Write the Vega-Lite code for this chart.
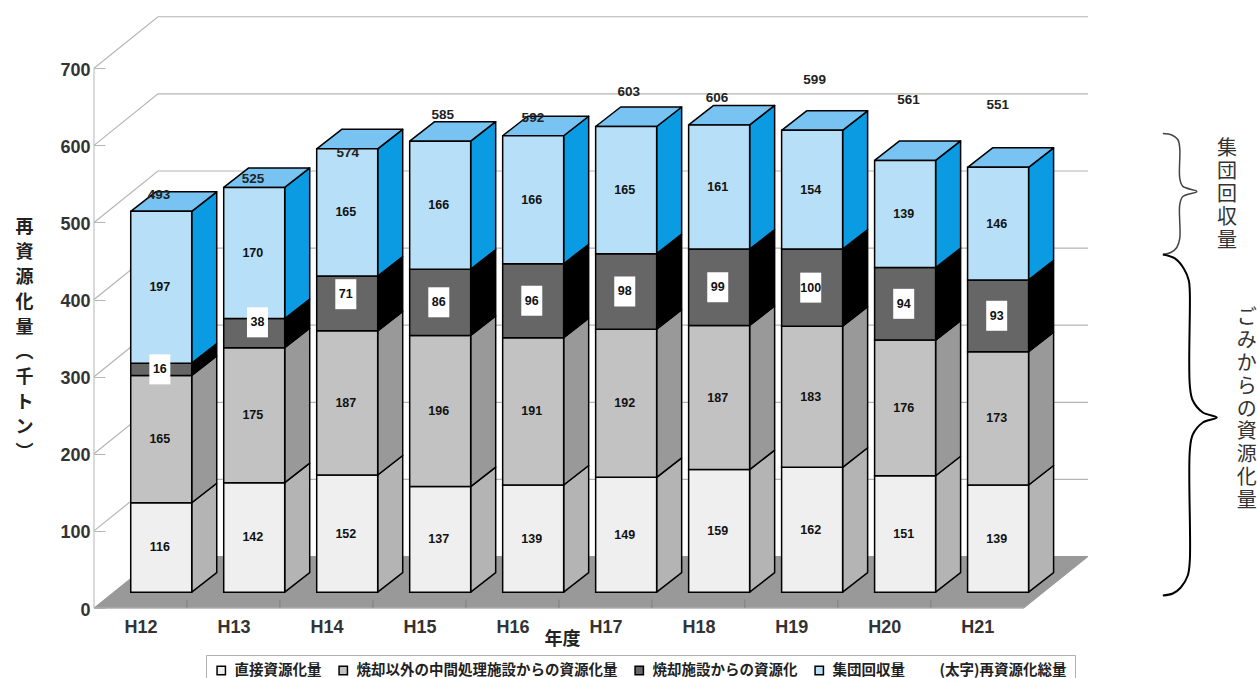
{
  "$schema": "https://vega.github.io/schema/vega-lite/v6.json",
  "width": 994,
  "height": 592,
  "autosize": "none",
  "padding": {"left": 94, "top": 16, "right": 169, "bottom": 70},
  "background": "white",
  "datasets": {
    "levels": [{"level":100},{"level":200},{"level":300},{"level":400},{"level":500},{"level":600},{"level":700}],
    "floor": [
      {"seq":0,"px":0,"py":0},{"seq":1,"px":0.688,"py":66.8},{"seq":2,"px":10.69,"py":66.8},{"seq":3,"px":10,"py":0},{"seq":4,"px":0,"py":0}
    ],
    "totals": [
      {"year":"H12","total":493,"px":0.70,"py":535},
      {"year":"H13","total":525,"px":1.71,"py":557},
      {"year":"H14","total":574,"px":2.73,"py":590},
      {"year":"H15","total":585,"px":3.75,"py":640},
      {"year":"H16","total":592,"px":4.72,"py":635},
      {"year":"H17","total":603,"px":5.75,"py":669},
      {"year":"H18","total":606,"px":6.70,"py":662},
      {"year":"H19","total":599,"px":7.75,"py":685},
      {"year":"H20","total":561,"px":8.76,"py":659},
      {"year":"H21","total":551,"px":9.72,"py":653}
    ],
    "braces": [
      {"brace":"group","seq":0,"px":11.495,"py":615.4},{"brace":"group","seq":1,"px":11.591,"py":613.5},{"brace":"group","seq":2,"px":11.656,"py":607.6},{"brace":"group","seq":3,"px":11.677,"py":596.0},{"brace":"group","seq":4,"px":11.677,"py":557.1},{"brace":"group","seq":5,"px":11.710,"py":546.8},{"brace":"group","seq":6,"px":11.860,"py":540.3},{"brace":"group","seq":7,"px":11.710,"py":533.8},{"brace":"group","seq":8,"px":11.677,"py":523.5},{"brace":"group","seq":9,"px":11.677,"py":479.3},{"brace":"group","seq":10,"px":11.645,"py":467.6},{"brace":"group","seq":11,"px":11.581,"py":461.1},{"brace":"group","seq":12,"px":11.495,"py":458.5},
      {"brace":"waste","seq":0,"px":11.495,"py":458.5},{"brace":"waste","seq":1,"px":11.624,"py":453.4},{"brace":"waste","seq":2,"px":11.720,"py":440.4},{"brace":"waste","seq":3,"px":11.774,"py":424.8},{"brace":"waste","seq":4,"px":11.785,"py":409.2},{"brace":"waste","seq":5,"px":11.785,"py":288.6},{"brace":"waste","seq":6,"px":11.817,"py":269.1},{"brace":"waste","seq":7,"px":11.925,"py":253.6},{"brace":"waste","seq":8,"px":12.075,"py":247.1},{"brace":"waste","seq":9,"px":11.925,"py":240.6},{"brace":"waste","seq":10,"px":11.817,"py":225.0},{"brace":"waste","seq":11,"px":11.785,"py":204.3},{"brace":"waste","seq":12,"px":11.785,"py":61.6},{"brace":"waste","seq":13,"px":11.763,"py":42.2},{"brace":"waste","seq":14,"px":11.688,"py":26.6},{"brace":"waste","seq":15,"px":11.602,"py":18.8},{"brace":"waste","seq":16,"px":11.495,"py":16.2}
    ],
    "notes": [
      {"label":"集\n団\n回\n収\n量","px":12.184,"py":607.8},
      {"label":"ご\nみ\nか\nら\nの\n資\n源\n化\n量","px":12.398,"py":388.6}
    ]
  },
  "data": {
    "values": [
      {"year":"H12","index":0,"order":1,"series":"直接資源化量","value":116},
      {"year":"H12","index":0,"order":2,"series":"焼却以外の中間処理施設からの資源化量","value":165},
      {"year":"H12","index":0,"order":3,"series":"焼却施設からの資源化","value":16},
      {"year":"H12","index":0,"order":4,"series":"集団回収量","value":197},
      {"year":"H13","index":1,"order":1,"series":"直接資源化量","value":142},
      {"year":"H13","index":1,"order":2,"series":"焼却以外の中間処理施設からの資源化量","value":175},
      {"year":"H13","index":1,"order":3,"series":"焼却施設からの資源化","value":38},
      {"year":"H13","index":1,"order":4,"series":"集団回収量","value":170},
      {"year":"H14","index":2,"order":1,"series":"直接資源化量","value":152},
      {"year":"H14","index":2,"order":2,"series":"焼却以外の中間処理施設からの資源化量","value":187},
      {"year":"H14","index":2,"order":3,"series":"焼却施設からの資源化","value":71},
      {"year":"H14","index":2,"order":4,"series":"集団回収量","value":165},
      {"year":"H15","index":3,"order":1,"series":"直接資源化量","value":137},
      {"year":"H15","index":3,"order":2,"series":"焼却以外の中間処理施設からの資源化量","value":196},
      {"year":"H15","index":3,"order":3,"series":"焼却施設からの資源化","value":86},
      {"year":"H15","index":3,"order":4,"series":"集団回収量","value":166},
      {"year":"H16","index":4,"order":1,"series":"直接資源化量","value":139},
      {"year":"H16","index":4,"order":2,"series":"焼却以外の中間処理施設からの資源化量","value":191},
      {"year":"H16","index":4,"order":3,"series":"焼却施設からの資源化","value":96},
      {"year":"H16","index":4,"order":4,"series":"集団回収量","value":166},
      {"year":"H17","index":5,"order":1,"series":"直接資源化量","value":149},
      {"year":"H17","index":5,"order":2,"series":"焼却以外の中間処理施設からの資源化量","value":192},
      {"year":"H17","index":5,"order":3,"series":"焼却施設からの資源化","value":98},
      {"year":"H17","index":5,"order":4,"series":"集団回収量","value":165},
      {"year":"H18","index":6,"order":1,"series":"直接資源化量","value":159},
      {"year":"H18","index":6,"order":2,"series":"焼却以外の中間処理施設からの資源化量","value":187},
      {"year":"H18","index":6,"order":3,"series":"焼却施設からの資源化","value":99},
      {"year":"H18","index":6,"order":4,"series":"集団回収量","value":161},
      {"year":"H19","index":7,"order":1,"series":"直接資源化量","value":162},
      {"year":"H19","index":7,"order":2,"series":"焼却以外の中間処理施設からの資源化量","value":183},
      {"year":"H19","index":7,"order":3,"series":"焼却施設からの資源化","value":100},
      {"year":"H19","index":7,"order":4,"series":"集団回収量","value":154},
      {"year":"H20","index":8,"order":1,"series":"直接資源化量","value":151},
      {"year":"H20","index":8,"order":2,"series":"焼却以外の中間処理施設からの資源化量","value":176},
      {"year":"H20","index":8,"order":3,"series":"焼却施設からの資源化","value":94},
      {"year":"H20","index":8,"order":4,"series":"集団回収量","value":139},
      {"year":"H21","index":9,"order":1,"series":"直接資源化量","value":139},
      {"year":"H21","index":9,"order":2,"series":"焼却以外の中間処理施設からの資源化量","value":173},
      {"year":"H21","index":9,"order":3,"series":"焼却施設からの資源化","value":93},
      {"year":"H21","index":9,"order":4,"series":"集団回収量","value":146}
    ]
  },
  "transform": [
    {"stack":"value","groupby":["year"],"sort":[{"field":"order","order":"ascending"}],"as":["low","high"]},
    {"calculate":"datum.index + 0.395","as":"left"},
    {"calculate":"datum.left + 0.656","as":"right"}
  ],
  "encoding": {
    "x": {
      "field":"px","type":"quantitative",
      "scale":{"domain":[0,10.69],"nice":false,"zero":false},
      "axis":{
        "values":[0.5,1.5,2.5,3.5,4.5,5.5,6.5,7.5,8.5,9.5],
        "labelExpr":"'H' + (12 + floor(datum.value))",
        "grid":false,"domain":false,"ticks":false,
        "labelFont":"Liberation Sans","labelFontSize":18,"labelFontWeight":"bold","labelColor":"#333333","labelFlush":false,"labelOverlap":false,"labelPadding":10,
        "title":"年度","titleFont":"Noto Sans CJK JP","titleFontSize":18,"titleFontWeight":"bold","titleColor":"#222",
        "titleX":468,"titleY":31,"titleBaseline":"middle","titleAlign":"center","titleAnchor":null
      }
    },
    "y": {
      "field":"py","type":"quantitative",
      "scale":{"domain":[0,767.8],"nice":false,"zero":false},
      "axis":{
        "values":[0,100,200,300,400,500,600,700],
        "grid":false,"domain":false,
        "tickSize":-11,"tickColor":"#b5b5b5","tickWidth":1,
        "labelFont":"Liberation Sans","labelFontSize":18,"labelFontWeight":"bold","labelColor":"#333333","labelPadding":15,"labelOffset":2,"labelFlush":false,"labelOverlap":false,
        "title":["再","資","源","化","量","︵","千","ト","ン","︶"],
        "titleFont":"Noto Sans CJK JP","titleFontSize":18,"titleFontWeight":"bold","titleColor":"#222","titleAngle":0,"titleLineHeight":25,
        "titleX":-70,"titleY":202,"titleBaseline":"top","titleAlign":"center","titleAnchor":null
      }
    }
  },
  "layer": [
    {
      "data":{"name":"floor"},
      "mark":{"type":"line","fill":"#999999","stroke":"#999999","strokeWidth":1},
      "encoding":{"order":{"field":"seq"}}
    },
    {
      "data":{"name":"levels"},
      "transform":[
        {"calculate":"[0,1,2]","as":"corner"},
        {"flatten":["corner"]},
        {"calculate":"datum.corner == 0 ? 0 : datum.corner == 1 ? 0.688 : 10.69","as":"px"},
        {"calculate":"datum.level + (datum.corner == 0 ? 0 : 66.8)","as":"py"}
      ],
      "mark":{"type":"line","stroke":"#b5b5b5","strokeWidth":1.2},
      "encoding":{"detail":{"field":"level"},"order":{"field":"corner"}}
    },
    {
      "data":{"values":[{"px":0,"py":0,"end":700}]},
      "mark":{"type":"rule","stroke":"#b5b5b5","strokeWidth":1},
      "encoding":{"y2":{"field":"end"}}
    },
    {
      "data":{"values":[{"px":0,"py":0,"end":10}]},
      "mark":{"type":"rule","stroke":"#b5b5b5","strokeWidth":1},
      "encoding":{"x2":{"field":"end"}}
    },
    {
      "data":{"values":[{"px":1,"py":0,"end":11},{"px":2,"py":0,"end":11},{"px":3,"py":0,"end":11},{"px":4,"py":0,"end":11},{"px":5,"py":0,"end":11},{"px":6,"py":0,"end":11},{"px":7,"py":0,"end":11},{"px":8,"py":0,"end":11},{"px":9,"py":0,"end":11}]},
      "mark":{"type":"rule","stroke":"#808080","strokeWidth":1},
      "encoding":{"y2":{"field":"end"}}
    },
    {
      "transform":[
        {"calculate":"[0,1,2,3,4]","as":"corner"},
        {"flatten":["corner"]},
        {"calculate":"datum.right + ((datum.corner == 1 || datum.corner == 2) ? 0.269 : 0)","as":"px"},
        {"calculate":"((datum.corner == 2 || datum.corner == 3) ? datum.high : datum.low) + 20.5 + ((datum.corner == 1 || datum.corner == 2) ? 25.3 : 0)","as":"py"},
        {"calculate":"datum.year + datum.order","as":"face"}
      ],
      "mark":{"type":"line","stroke":"#000000","strokeWidth":1.5,"strokeJoin":"round"},
      "encoding":{
        "detail":{"field":"face"},
        "order":{"field":"corner"},
        "fill":{
          "field":"order","type":"nominal",
          "scale":{"domain":[1,2,3,4],"range":["#b4b4b4","#999999","#000000","#0a9be2"]},
          "legend":null
        }
      }
    },
    {
      "transform":[
        {"filter":"datum.order == 4"},
        {"calculate":"[0,1,2,3,4]","as":"corner"},
        {"flatten":["corner"]},
        {"calculate":"(datum.corner == 1 || datum.corner == 2 ? datum.right : datum.left) + (datum.corner == 2 || datum.corner == 3 ? 0.269 : 0)","as":"px"},
        {"calculate":"datum.high + 20.5 + (datum.corner == 2 || datum.corner == 3 ? 25.3 : 0)","as":"py"}
      ],
      "mark":{"type":"line","fill":"#78c3f1","stroke":"#000000","strokeWidth":1.5,"strokeJoin":"round"},
      "encoding":{"detail":{"field":"year"},"order":{"field":"corner"}}
    },
    {
      "transform":[
        {"calculate":"datum.left","as":"px"},
        {"calculate":"datum.low + 20.5","as":"py"},
        {"calculate":"datum.high + 20.5","as":"pyEnd"}
      ],
      "mark":{"type":"rect","strokeWidth":1.5},
      "encoding":{
        "x2":{"field":"right"},
        "y2":{"field":"pyEnd"},
        "fill":{
          "field":"series","type":"nominal",
          "scale":{
            "domain":["直接資源化量","焼却以外の中間処理施設からの資源化量","焼却施設からの資源化","集団回収量","(太字)再資源化総量"],
            "range":["#efefef","#c2c2c2","#666666","#b8dff8","#ffffff"]
          },
          "legend":{
            "orient":"none","legendX":112,"legendY":639,"direction":"horizontal","columns":5,"title":null,
            "strokeColor":"#b0b0b0","padding":8,"symbolType":"square","symbolSize":70,"symbolStrokeWidth":1.5,
            "labelFont":"Noto Sans CJK JP","labelFontSize":14.5,"labelFontWeight":"bold","labelColor":"#222","labelLimit":500,"labelOffset":6,"columnPadding":14
          }
        },
        "stroke":{
          "field":"series","type":"nominal",
          "scale":{
            "domain":["直接資源化量","焼却以外の中間処理施設からの資源化量","焼却施設からの資源化","集団回収量","(太字)再資源化総量"],
            "range":["#000000","#000000","#000000","#000000","transparent"]
          },
          "legend":{
            "orient":"none","legendX":112,"legendY":639,"direction":"horizontal","columns":5,"title":null,
            "strokeColor":"#b0b0b0","padding":8,"symbolType":"square","symbolSize":70,"symbolStrokeWidth":1.5,
            "labelFont":"Noto Sans CJK JP","labelFontSize":14.5,"labelFontWeight":"bold","labelColor":"#222","labelLimit":500,"labelOffset":6,"columnPadding":14
          }
        }
      }
    },
    {
      "transform":[
        {"filter":"datum.order == 3"},
        {"calculate":"(datum.left + datum.right) / 2 - 0.015 + (datum.year == 'H13' ? 0.05 : 0)","as":"px"},
        {"calculate":"(datum.low + datum.high) / 2 + 20.5 + (datum.year == 'H13' ? 14 : datum.year == 'H14' ? 12 : 0)","as":"py"}
      ],
      "mark":{"type":"rect","fill":"#ffffff","width":21,"height":30}
    },
    {
      "transform":[
        {"calculate":"(datum.left + datum.right) / 2 - 0.015 + (datum.order == 3 && datum.year == 'H13' ? 0.05 : 0)","as":"px"},
        {"calculate":"(datum.low + datum.high) / 2 + 20.5 + (datum.order == 3 && datum.year == 'H13' ? 14 : datum.order == 3 && datum.year == 'H14' ? 12 : 0)","as":"py"}
      ],
      "mark":{"type":"text","font":"Liberation Sans","fontWeight":"bold","fontSize":12.5,"fill":"#111111"},
      "encoding":{"text":{"field":"value","type":"quantitative"}}
    },
    {
      "data":{"name":"totals"},
      "mark":{"type":"text","font":"Liberation Sans","fontWeight":"bold","fontSize":13.5,"fill":"#222222"},
      "encoding":{"text":{"field":"total","type":"quantitative"}}
    },
    {
      "data":{"name":"braces"},
      "transform":[{"filter":"datum.brace == 'group'"}],
      "mark":{"type":"line","stroke":"#444444","strokeWidth":1.5,"interpolate":"catmull-rom"},
      "encoding":{"order":{"field":"seq"}}
    },
    {
      "data":{"name":"braces"},
      "transform":[{"filter":"datum.brace == 'waste'"}],
      "mark":{"type":"line","stroke":"#000000","strokeWidth":2,"interpolate":"catmull-rom"},
      "encoding":{"order":{"field":"seq"}}
    },
    {
      "data":{"name":"notes"},
      "mark":{"type":"text","font":"Noto Sans CJK JP","fontSize":20,"fill":"#333333","lineBreak":"\n","lineHeight":22.8,"baseline":"top","align":"center"},
      "encoding":{"text":{"field":"label","type":"nominal"}}
    }
  ],
  "resolve":{"scale":{"fill":"independent","stroke":"independent"}},
  "config":{"view":{"stroke":null}}
}
